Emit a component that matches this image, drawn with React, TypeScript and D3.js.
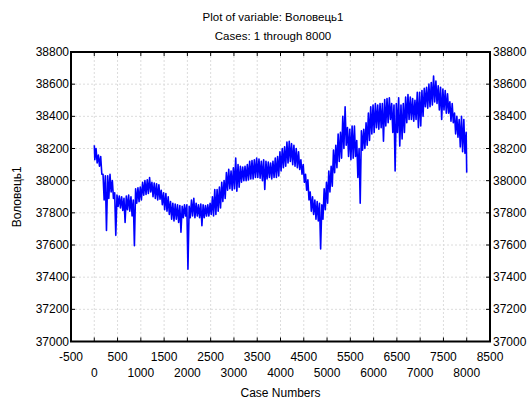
import * as d3 from "d3";
import { useEffect, useRef } from "react";

// envelope, one pair per 50 cases (0..8000)
const caseStep = 50;
const upper = [
  38220, 38200, 38160, 38150, 38040, 38030, 38030, 38040, 38000, 37925,
  37910, 37905, 37900, 37890, 37905, 37910, 37900, 37880, 37950, 37955,
  37960, 37990, 38000, 38005, 38020, 37990, 37985, 37980, 37975, 37940,
  37925, 37920, 37900, 37870, 37860, 37855, 37850, 37845, 37840, 37850,
  37850, 37840, 37880, 37890, 37860, 37850, 37855, 37850, 37845, 37850,
  37860, 37900, 37945, 37945, 37960, 37990, 38000, 38050, 38070, 38060,
  38080, 38140, 38100, 38090, 38085, 38090, 38100, 38120, 38125, 38130,
  38140, 38135, 38120, 38130, 38120, 38115, 38110, 38120, 38140, 38150,
  38180, 38200, 38210, 38240, 38245, 38230, 38220, 38200, 38180, 38130,
  38100, 38040, 38005, 37930, 37900, 37880, 37870, 37860, 37850, 37950,
  37990, 38060, 38090, 38190, 38220, 38290, 38300, 38400, 38460, 38330,
  38320, 38340, 38340, 38250, 38200, 38310, 38320, 38360, 38420, 38460,
  38470, 38480, 38470, 38480, 38480, 38505, 38510, 38515, 38480, 38470,
  38480, 38515, 38470, 38480, 38520, 38535, 38520, 38510, 38500, 38550,
  38550, 38560, 38575, 38580, 38600, 38610, 38650, 38620, 38590, 38580,
  38570, 38560, 38540, 38490, 38480, 38420, 38400, 38380, 38400, 38380,
  38300,
];
const lower = [
  38130, 38110, 38090, 38040, 37880, 37690, 37890, 37930, 37890, 37660,
  37840, 37830, 37815, 37740, 37820, 37810, 37780, 37595, 37860, 37870,
  37880, 37910, 37915, 37920, 37930, 37900, 37890, 37880, 37885, 37850,
  37820, 37810, 37790, 37760, 37750, 37760, 37740, 37680, 37770, 37780,
  37450, 37770, 37780, 37770, 37780, 37770, 37720, 37770, 37780, 37780,
  37790, 37780, 37790, 37810, 37830, 37870, 37890, 37940, 37950, 37940,
  37950, 37935, 37960, 37990, 38000, 38000, 38005, 38010, 38010, 38020,
  38020, 38015, 38000, 37945, 38010, 38020, 38010, 38020, 38020, 38030,
  38060, 38080, 38090, 38110, 38120, 38100, 38090, 38080, 38070, 38040,
  37990, 37940, 37880, 37810, 37790, 37760, 37750, 37575, 37760, 37820,
  37860, 37930, 37965, 38050, 38080, 38120, 38140, 38200, 38220, 38150,
  38130, 38140, 38150, 38020, 37860, 38190, 38200, 38220, 38250, 38290,
  38300, 38330, 38320, 38330, 38245, 38340, 38360, 38380, 38300, 38060,
  38300, 38215, 38260, 38300, 38360, 38380, 38380, 38370, 38380, 38330,
  38340, 38400, 38460, 38450, 38460, 38470, 38490, 38480, 38440, 38380,
  38440, 38420, 38420, 38370, 38360, 38290, 38270, 38210, 38180, 38170,
  38050,
];
const xTicks = d3.range(-500, 8501, 500);
const yTicks = d3.range(37000, 38801, 200);
const titleLines = ["Plot of variable: Воловець1", "Cases: 1 through 8000"];
const xTitle = "Case Numbers";
const yTitle = "Воловець1";

type Pt = { c: number; v: number };

export default function App() {
  const svgRef = useRef<SVGSVGElement | null>(null);

  useEffect(() => {
    if (!svgRef.current) return;
    const svg = d3.select(svgRef.current);
    svg.selectAll("*").remove();

    const width = 530;
    const height = 401;
    const m = { top: 52, right: 40, bottom: 59.5, left: 71 };
    const font = "'Liberation Sans', Arial, sans-serif";

    const x = d3.scaleLinear().domain([-500, 8500]).range([m.left, width - m.right]);
    const y = d3.scaleLinear().domain([37000, 38800]).range([height - m.bottom, m.top]);

    const pts: Pt[] = [];
    upper.forEach((u, i) => {
      const c = i * caseStep;
      pts.push({ c: Math.max(1, c - 12), v: u });
      pts.push({ c: Math.min(8000, c + 12), v: lower[i] });
    });

    // grid
    const grid = svg.append("g").attr("stroke", "#dcdcdc").attr("stroke-dasharray", "2,2").attr("stroke-width", 1);
    grid
      .selectAll(".gx")
      .data(xTicks.slice(1, -1))
      .join("line")
      .attr("x1", (d) => x(d))
      .attr("x2", (d) => x(d))
      .attr("y1", m.top)
      .attr("y2", height - m.bottom);
    grid
      .selectAll(".gy")
      .data(yTicks.slice(1, -1))
      .join("line")
      .attr("x1", m.left)
      .attr("x2", width - m.right)
      .attr("y1", (d) => y(d))
      .attr("y2", (d) => y(d));

    const line = d3
      .line<Pt>()
      .x((p) => x(p.c))
      .y((p) => y(p.v));

    svg
      .append("path")
      .datum(pts)
      .attr("d", line)
      .attr("fill", "none")
      .attr("stroke", "#0000ff")
      .attr("stroke-width", 1.6)
      .attr("stroke-linejoin", "round");

    // frame
    svg
      .append("rect")
      .attr("x", m.left)
      .attr("y", m.top)
      .attr("width", width - m.right - m.left)
      .attr("height", height - m.bottom - m.top)
      .attr("fill", "none")
      .attr("stroke", "#000")
      .attr("stroke-width", 2);

    const ticks = svg.append("g").attr("stroke", "#000").attr("stroke-width", 1);
    const tl = 4;
    xTicks.forEach((t) => {
      ticks.append("line").attr("x1", x(t)).attr("x2", x(t)).attr("y1", m.top).attr("y2", m.top + tl);
      ticks
        .append("line")
        .attr("x1", x(t))
        .attr("x2", x(t))
        .attr("y1", height - m.bottom)
        .attr("y2", height - m.bottom - tl);
    });
    yTicks.forEach((t) => {
      ticks.append("line").attr("x1", m.left).attr("x2", m.left + tl).attr("y1", y(t)).attr("y2", y(t));
      ticks
        .append("line")
        .attr("x1", width - m.right)
        .attr("x2", width - m.right - tl)
        .attr("y1", y(t))
        .attr("y2", y(t));
    });

    const labels = svg.append("g").attr("font-family", font).attr("font-size", 12).attr("fill", "#000");

    labels
      .selectAll(".yl")
      .data(yTicks)
      .join("text")
      .attr("x", m.left - 2)
      .attr("y", (d) => y(d) + 4)
      .attr("text-anchor", "end")
      .text((d) => d);
    labels
      .selectAll(".yr")
      .data(yTicks)
      .join("text")
      .attr("x", width - m.right + 3)
      .attr("y", (d) => y(d) + 4)
      .attr("text-anchor", "start")
      .text((d) => d);

    labels
      .selectAll(".xl")
      .data(xTicks)
      .join("text")
      .attr("x", (d) => x(d))
      .attr("y", (d, i) => (i % 2 === 0 ? 361 : 377))
      .attr("text-anchor", "middle")
      .text((d) => d);

    labels
      .append("text")
      .attr("x", (m.left + width - m.right) / 2)
      .attr("y", 397)
      .attr("text-anchor", "middle")
      .text(xTitle);

    labels
      .append("text")
      .attr("transform", `translate(21,${(m.top + height - m.bottom) / 2}) rotate(-90)`)
      .attr("text-anchor", "middle")
      .text(yTitle);

    labels
      .selectAll(".title")
      .data(titleLines)
      .join("text")
      .attr("x", 273)
      .attr("y", (d, i) => 21 + i * 19)
      .attr("text-anchor", "middle")
      .attr("font-size", 11.5)
      .text((d) => d);
  }, []);

  return (
    <div style={{ position: "absolute", left: 0, top: 0 }}>
      <svg ref={svgRef} width={530} height={401} style={{ display: "block", background: "#fff" }} />
    </div>
  );
}
